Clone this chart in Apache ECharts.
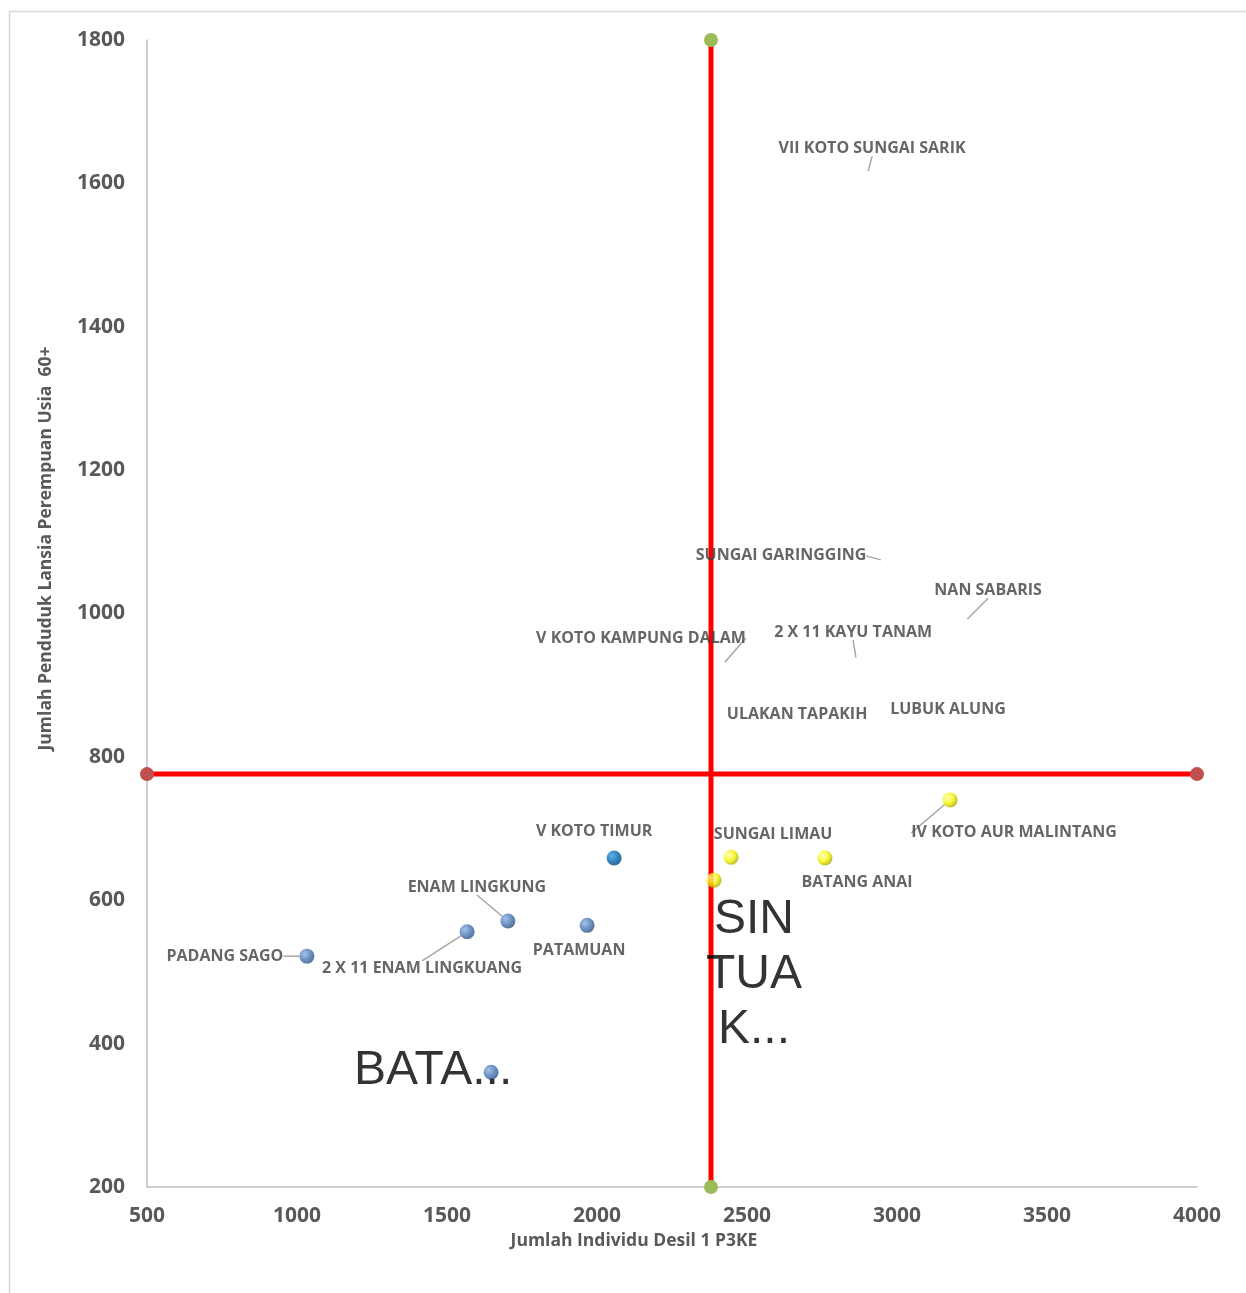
<!DOCTYPE html>
<html>
<head>
<meta charset="utf-8">
<script src="https://cdn.jsdelivr.net/npm/echarts@6/dist/echarts.min.js"></script>
<style>
html,body{margin:0;padding:0;background:#fff;}
#chart{width:1246px;height:1293px;}
</style>
</head>
<body>
<div id="chart"></div>
<script>
// ---- data ----
const lowLeftNames = ["PADANG SAGO", "2 X 11 ENAM LINGKUANG", "ENAM LINGKUNG", "PATAMUAN", "V KOTO TIMUR", "BATA..."];
const lowLeftX = [1033, 1567, 1703, 1967, 2057, 1647];
const lowLeftY = [522, 556, 571, 565, 659, 360];

const lowRightNames = ["SUNGAI LIMAU", "BATANG ANAI", "SIN\nTUA\nK...", "IV KOTO AUR MALINTANG"];
const lowRightX = [2447, 2760, 2390, 3177];
const lowRightY = [660, 659, 628, 740];

const upperNames = ["VII KOTO SUNGAI SARIK", "SUNGAI GARINGGING", "NAN SABARIS", "2 X 11 KAYU TANAM", "V KOTO KAMPUNG DALAM", "ULAKAN TAPAKIH", "LUBUK ALUNG"];
const upperX = [2897, 2970, 3217, 2867, 2410, 2667, 3170];
const upperY = [1607, 1072, 985, 928, 924, 828, 836];

const quadX = 2380;   // vertical divider (x)
const quadY = 776;    // horizontal divider (y)
const xMin = 500, xMax = 4000, xStep = 500;
const yMin = 200, yMax = 1800, yStep = 200;

const xTitle = "Jumlah Individu Desil 1 P3KE";
const yTitle = "Jumlah Penduduk Lansia Perempuan Usia  60+";

// ---- label layout (pixel offsets of label centre from point, leader line flag) ----
const layoutLowLeft = [[-82,0,true],[-45,37,true],[-31,-34,true],[-8,25,false],[-20,-27,false],[-58,-2,false]];
const layoutLowRight = [[42,-23,false],[32,24,false],[40,95,false],[64,33,true]];
const layoutUpper = [[6,-30,true],[-107,-6,true],[26,-34,true],[-4,-33,true],[-79,-30,true],[0,-22,false],[0,-22,false]];

const bigLabels = {"BATA...": true, "SIN\nTUA\nK...": true};

function sphere(c1, c2, c3){
  return {type:'radial', x:0.35, y:0.35, r:0.7,
    colorStops:[{offset:0,color:c1},{offset:0.55,color:c2},{offset:1,color:c3}]};
}
const blueFill = sphere('#8fb3e0','#4a78b5','#2a4d7e');
const darkBlueFill = sphere('#3c9be0','#0068b5','#003f70');
const yellowFill = sphere('#ffffb0','#f5f500','#a8a800');

const smallLabel = {show:true, position:'inside', fontFamily:'Open Sans', fontWeight:'bold', fontSize:16, color:'#404040'};
const bigLabel = {show:true, position:'inside', fontFamily:'Liberation Sans', fontWeight:'normal', fontSize:48, lineHeight:55, color:'#000', align:'center'};

function build(names, xs, ys){
  return names.map((n,i)=>{
    const item = {name:n, value:[xs[i], ys[i]], label: Object.assign({}, bigLabels[n] ? bigLabel : smallLabel, {formatter: n})};
    if (n === "V KOTO TIMUR") item.itemStyle = {color: darkBlueFill};
    return item;
  });
}
function makeLayout(lay){
  return function(p){
    const o = lay[p.dataIndex];
    const r = p.rect;
    const cx = r.x + r.width/2, cy = r.y + r.height/2;
    return {x: cx + o[0], y: cy + o[1], align: 'center', verticalAlign:'middle'};
  };
}

const labelLineStyle = {show:true, length2:0, lineStyle:{color:'#a6a6a6', width:1.5}};

function withLines(data, lay){
  return data.map((d,i)=>{ d.labelLine = {show: lay[i][2]}; return d; });
}

const plain = v => String(v);

const chart = echarts.init(document.getElementById('chart'), null, {renderer:'canvas'});
const option = {
  backgroundColor:'#fff',
  animation:false,
  grid:{left:147, right:49, top:40, bottom:106, containLabel:false},
  graphic:[{type:'rect', shape:{x:9.5,y:11.5,width:1250,height:1300}, style:{fill:'none', stroke:'#d9d9d9', lineWidth:1.5}, silent:true, z:-1}],
  xAxis:{type:'value', min:xMin, max:xMax, interval:xStep,
    name:xTitle, nameLocation:'middle', nameGap:43,
    nameTextStyle:{fontFamily:'Open Sans', fontWeight:'bold', fontSize:17.5, color:'#595959', padding:[0,76,0,0]},
    axisLine:{show:true, onZero:false, lineStyle:{color:'#bfbfbf', width:1.5}},
    axisTick:{show:false}, splitLine:{show:false},
    axisLabel:{fontFamily:'Open Sans', fontWeight:'bold', fontSize:21, color:'#595959', margin:19, formatter: plain}},
  yAxis:{type:'value', min:yMin, max:yMax, interval:yStep,
    name:yTitle, nameLocation:'middle', nameGap:92,
    nameTextStyle:{fontFamily:'Open Sans', fontWeight:'bold', fontSize:17.5, color:'#595959', padding:[0,0,0,130]},
    axisLine:{show:true, onZero:false, lineStyle:{color:'#bfbfbf', width:1.5}},
    axisTick:{show:false}, splitLine:{show:false},
    axisLabel:{fontFamily:'Open Sans', fontWeight:'bold', fontSize:21, color:'#595959', margin:22, formatter: plain}},
  series:[
    {type:'line', data:[[quadX,yMin],[quadX,yMax]], symbol:'circle', symbolSize:14, clip:false,
     itemStyle:{color:'#9bbb59'}, lineStyle:{color:'#ff0000', width:5}, z:3},
    {type:'line', data:[[xMin,quadY],[xMax,quadY]], symbol:'circle', symbolSize:14, clip:false,
     itemStyle:{color:'#c0504d'}, lineStyle:{color:'#ff0000', width:5}, z:3},
    {type:'scatter', symbolSize:15, itemStyle:{color:blueFill}, z:5,
     data: withLines(build(lowLeftNames, lowLeftX, lowLeftY), layoutLowLeft),
     labelLine: labelLineStyle, labelLayout: makeLayout(layoutLowLeft)},
    {type:'scatter', symbolSize:15, itemStyle:{color:yellowFill}, z:5,
     data: withLines(build(lowRightNames, lowRightX, lowRightY), layoutLowRight),
     labelLine: labelLineStyle, labelLayout: makeLayout(layoutLowRight)},
    {type:'scatter', symbolSize:15, itemStyle:{color:'rgba(0,0,0,0)'}, z:5,
     data: withLines(build(upperNames, upperX, upperY), layoutUpper),
     labelLine: labelLineStyle, labelLayout: makeLayout(layoutUpper)}
  ]
};
chart.setOption(option);
</script>
</body>
</html>
